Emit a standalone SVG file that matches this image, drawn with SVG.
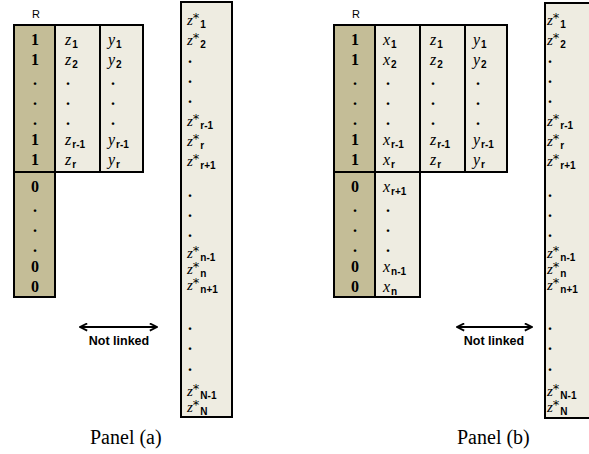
<svg xmlns="http://www.w3.org/2000/svg" width="589" height="454" viewBox="0 0 589 454">
<style>
.br{fill:#c4bd97;stroke:#000;stroke-width:2}
.bx{fill:#eeece1;stroke:#000;stroke-width:2}
.n{font-family:"Liberation Serif",serif;font-weight:bold;font-size:16px;text-anchor:middle}
.v{font-family:"Liberation Serif",serif;font-style:italic;font-size:16px}
.s{font-family:"Liberation Sans",sans-serif;font-weight:bold;font-size:10px}
.zs{font-family:"Liberation Serif",serif;font-style:italic;font-size:15px}
.ast{font-family:"DejaVu Sans",sans-serif;font-size:13px;font-style:normal}
.lab{font-family:"Liberation Sans",sans-serif;font-size:11px}
.nl{font-family:"Liberation Sans",sans-serif;font-weight:bold;font-size:12.5px;text-anchor:middle}
.pn{font-family:"Liberation Serif",serif;font-size:20px}
.ln{stroke:#000;stroke-width:2;fill:none}
</style>
<defs>
<marker id="ah" viewBox="0 0 10 10" refX="9" refY="5" markerWidth="9" markerHeight="9" markerUnits="userSpaceOnUse" orient="auto-start-reverse">
<path d="M1,1 L9,5 L1,9" fill="none" stroke="#000" stroke-width="2"/>
</marker>
</defs>

<!-- Panel (a) -->
<g id="panel-a">
<text class="lab" x="32" y="18">R</text>
<g id="a-R-upper">
<rect class="br" x="14" y="25" width="41" height="147"/>
<text class="n" x="35" y="45">1</text>
<text class="n" x="35" y="65">1</text>
<text class="n" x="35" y="85">.</text>
<text class="n" x="35" y="105">.</text>
<text class="n" x="35" y="125">.</text>
<text class="n" x="35" y="145">1</text>
<text class="n" x="35" y="165">1</text>
</g>
<g id="a-z">
<rect class="bx" x="55" y="25" width="45" height="147"/>
<text x="65" y="45"><tspan class="v">z</tspan><tspan class="s" dx="1" dy="3">1</tspan></text>
<text x="65" y="65"><tspan class="v">z</tspan><tspan class="s" dx="1" dy="3">2</tspan></text>
<text class="n" x="68" y="85">.</text>
<text class="n" x="68" y="105">.</text>
<text class="n" x="68" y="125">.</text>
<text x="65" y="145"><tspan class="v">z</tspan><tspan class="s" dx="1" dy="3">r-1</tspan></text>
<text x="65" y="165"><tspan class="v">z</tspan><tspan class="s" dx="1" dy="3">r</tspan></text>
</g>
<g id="a-y">
<rect class="bx" x="100" y="25" width="43" height="147"/>
<text x="108" y="45"><tspan class="v">y</tspan><tspan class="s" dx="1" dy="3">1</tspan></text>
<text x="108" y="65"><tspan class="v">y</tspan><tspan class="s" dx="1" dy="3">2</tspan></text>
<text class="n" x="113" y="85">.</text>
<text class="n" x="113" y="105">.</text>
<text class="n" x="113" y="125">.</text>
<text x="108" y="145"><tspan class="v">y</tspan><tspan class="s" dx="1" dy="3">r-1</tspan></text>
<text x="108" y="165"><tspan class="v">y</tspan><tspan class="s" dx="1" dy="3">r</tspan></text>
</g>
<g id="a-R-lower">
<rect class="br" x="14" y="172" width="41" height="125"/>
<text class="n" x="35" y="192">0</text>
<text class="n" x="35" y="212">.</text>
<text class="n" x="35" y="232">.</text>
<text class="n" x="35" y="252">.</text>
<text class="n" x="35" y="272">0</text>
<text class="n" x="35" y="292">0</text>
</g>
<g id="a-zstar">
<rect class="bx" x="181" y="2" width="51" height="415"/>
<text x="187" y="25"><tspan class="zs">z</tspan><tspan class="ast" dy="-3">*</tspan><tspan class="s" dx="1" dy="6">1</tspan></text>
<text x="187" y="45"><tspan class="zs">z</tspan><tspan class="ast" dy="-3">*</tspan><tspan class="s" dx="1" dy="6">2</tspan></text>
<text class="n" x="190" y="63">.</text>
<text class="n" x="190" y="83">.</text>
<text class="n" x="190" y="103">.</text>
<text x="187" y="126"><tspan class="zs">z</tspan><tspan class="ast" dy="-3">*</tspan><tspan class="s" dx="1" dy="6">r-1</tspan></text>
<text x="187" y="146"><tspan class="zs">z</tspan><tspan class="ast" dy="-3">*</tspan><tspan class="s" dx="1" dy="6">r</tspan></text>
<text x="187" y="166"><tspan class="zs">z</tspan><tspan class="ast" dy="-3">*</tspan><tspan class="s" dx="1" dy="6">r+1</tspan></text>
<text class="n" x="190" y="197">.</text>
<text class="n" x="190" y="217">.</text>
<text class="n" x="190" y="237">.</text>
<text x="187" y="258"><tspan class="zs">z</tspan><tspan class="ast" dy="-3">*</tspan><tspan class="s" dx="1" dy="6">n-1</tspan></text>
<text x="187" y="274"><tspan class="zs">z</tspan><tspan class="ast" dy="-3">*</tspan><tspan class="s" dx="1" dy="6">n</tspan></text>
<text x="187" y="290"><tspan class="zs">z</tspan><tspan class="ast" dy="-3">*</tspan><tspan class="s" dx="1" dy="6">n+1</tspan></text>
<text class="n" x="190" y="330">.</text>
<text class="n" x="190" y="350">.</text>
<text class="n" x="190" y="371">.</text>
<text x="187" y="396"><tspan class="zs">z</tspan><tspan class="ast" dy="-3">*</tspan><tspan class="s" dx="1" dy="6">N-1</tspan></text>
<text x="187" y="412"><tspan class="zs">z</tspan><tspan class="ast" dy="-3">*</tspan><tspan class="s" dx="1" dy="6">N</tspan></text>
</g>
<text class="nl" x="119" y="345">Not linked</text>
<text class="pn" x="90" y="444">Panel (a)</text>
</g>

<!-- Panel (b) -->
<g id="panel-b">
<text class="lab" x="352" y="18">R</text>
<g id="b-R-upper">
<rect class="br" x="334" y="25" width="41" height="147"/>
<text class="n" x="355" y="45">1</text>
<text class="n" x="355" y="65">1</text>
<text class="n" x="355" y="85">.</text>
<text class="n" x="355" y="105">.</text>
<text class="n" x="355" y="125">.</text>
<text class="n" x="355" y="145">1</text>
<text class="n" x="355" y="165">1</text>
</g>
<g id="b-x-upper">
<rect class="bx" x="375" y="25" width="45" height="147"/>
<text x="383" y="45"><tspan class="v">x</tspan><tspan class="s" dx="1" dy="3">1</tspan></text>
<text x="383" y="65"><tspan class="v">x</tspan><tspan class="s" dx="1" dy="3">2</tspan></text>
<text class="n" x="388" y="85">.</text>
<text class="n" x="388" y="105">.</text>
<text class="n" x="388" y="125">.</text>
<text x="383" y="145"><tspan class="v">x</tspan><tspan class="s" dx="1" dy="3">r-1</tspan></text>
<text x="383" y="165"><tspan class="v">x</tspan><tspan class="s" dx="1" dy="3">r</tspan></text>
</g>
<g id="b-z">
<rect class="bx" x="420" y="25" width="45" height="147"/>
<text x="430" y="45"><tspan class="v">z</tspan><tspan class="s" dx="1" dy="3">1</tspan></text>
<text x="430" y="65"><tspan class="v">z</tspan><tspan class="s" dx="1" dy="3">2</tspan></text>
<text class="n" x="433" y="85">.</text>
<text class="n" x="433" y="105">.</text>
<text class="n" x="433" y="125">.</text>
<text x="430" y="145"><tspan class="v">z</tspan><tspan class="s" dx="1" dy="3">r-1</tspan></text>
<text x="430" y="165"><tspan class="v">z</tspan><tspan class="s" dx="1" dy="3">r</tspan></text>
</g>
<g id="b-y">
<rect class="bx" x="465" y="25" width="42" height="147"/>
<text x="473" y="45"><tspan class="v">y</tspan><tspan class="s" dx="1" dy="3">1</tspan></text>
<text x="473" y="65"><tspan class="v">y</tspan><tspan class="s" dx="1" dy="3">2</tspan></text>
<text class="n" x="478" y="85">.</text>
<text class="n" x="478" y="105">.</text>
<text class="n" x="478" y="125">.</text>
<text x="473" y="145"><tspan class="v">y</tspan><tspan class="s" dx="1" dy="3">r-1</tspan></text>
<text x="473" y="165"><tspan class="v">y</tspan><tspan class="s" dx="1" dy="3">r</tspan></text>
</g>
<g id="b-R-lower">
<rect class="br" x="334" y="172" width="41" height="125"/>
<text class="n" x="355" y="192">0</text>
<text class="n" x="355" y="212">.</text>
<text class="n" x="355" y="232">.</text>
<text class="n" x="355" y="252">.</text>
<text class="n" x="355" y="272">0</text>
<text class="n" x="355" y="292">0</text>
</g>
<g id="b-x-lower">
<rect class="bx" x="375" y="172" width="45" height="125"/>
<text x="383" y="192"><tspan class="v">x</tspan><tspan class="s" dx="1" dy="3">r+1</tspan></text>
<text class="n" x="388" y="212">.</text>
<text class="n" x="388" y="232">.</text>
<text class="n" x="388" y="252">.</text>
<text x="383" y="272"><tspan class="v">x</tspan><tspan class="s" dx="1" dy="3">n-1</tspan></text>
<text x="383" y="292"><tspan class="v">x</tspan><tspan class="s" dx="1" dy="3">n</tspan></text>
</g>
<g id="b-zstar">
<rect class="bx" x="545" y="3" width="51" height="415"/>
<text x="547" y="25"><tspan class="zs">z</tspan><tspan class="ast" dy="-3">*</tspan><tspan class="s" dx="1" dy="6">1</tspan></text>
<text x="547" y="45"><tspan class="zs">z</tspan><tspan class="ast" dy="-3">*</tspan><tspan class="s" dx="1" dy="6">2</tspan></text>
<text class="n" x="550" y="63">.</text>
<text class="n" x="550" y="83">.</text>
<text class="n" x="550" y="103">.</text>
<text x="547" y="126"><tspan class="zs">z</tspan><tspan class="ast" dy="-3">*</tspan><tspan class="s" dx="1" dy="6">r-1</tspan></text>
<text x="547" y="146"><tspan class="zs">z</tspan><tspan class="ast" dy="-3">*</tspan><tspan class="s" dx="1" dy="6">r</tspan></text>
<text x="547" y="166"><tspan class="zs">z</tspan><tspan class="ast" dy="-3">*</tspan><tspan class="s" dx="1" dy="6">r+1</tspan></text>
<text class="n" x="550" y="197">.</text>
<text class="n" x="550" y="217">.</text>
<text class="n" x="550" y="237">.</text>
<text x="547" y="258"><tspan class="zs">z</tspan><tspan class="ast" dy="-3">*</tspan><tspan class="s" dx="1" dy="6">n-1</tspan></text>
<text x="547" y="274"><tspan class="zs">z</tspan><tspan class="ast" dy="-3">*</tspan><tspan class="s" dx="1" dy="6">n</tspan></text>
<text x="547" y="290"><tspan class="zs">z</tspan><tspan class="ast" dy="-3">*</tspan><tspan class="s" dx="1" dy="6">n+1</tspan></text>
<text class="n" x="550" y="330">.</text>
<text class="n" x="550" y="350">.</text>
<text class="n" x="550" y="371">.</text>
<text x="547" y="396"><tspan class="zs">z</tspan><tspan class="ast" dy="-3">*</tspan><tspan class="s" dx="1" dy="6">N-1</tspan></text>
<text x="547" y="412"><tspan class="zs">z</tspan><tspan class="ast" dy="-3">*</tspan><tspan class="s" dx="1" dy="6">N</tspan></text>
</g>
<text class="nl" x="494" y="345">Not linked</text>
<text class="pn" x="457" y="444">Panel (b)</text>
</g>

<g id="connectors">
<line class="ln" x1="80" y1="327" x2="157" y2="327" marker-start="url(#ah)" marker-end="url(#ah)"/>
<line class="ln" x1="457" y1="327" x2="532" y2="327" marker-start="url(#ah)" marker-end="url(#ah)"/>
</g>
</svg>
